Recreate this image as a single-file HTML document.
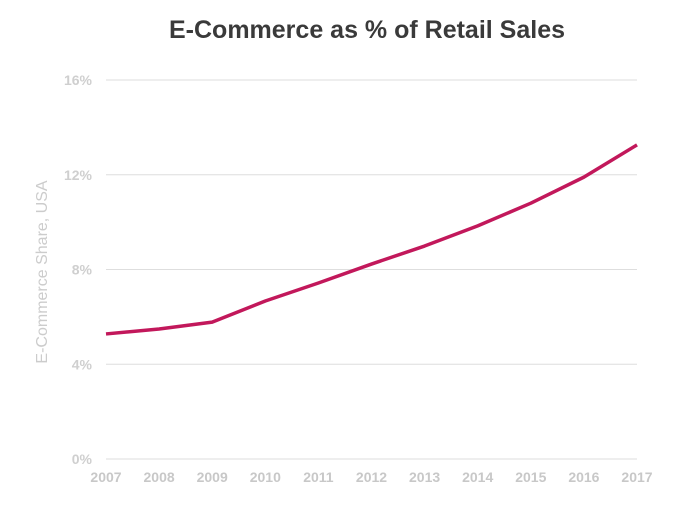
<!DOCTYPE html>
<html><head><meta charset="utf-8"><style>
body{margin:0;background:#fff;}
svg{display:block;font-family:"Liberation Sans",Arial,sans-serif;}
</style></head><body>
<svg id="chart" width="700" height="517">
<text x="367" y="38" text-anchor="middle" font-size="25" font-weight="bold" fill="#3a3a3a">E-Commerce as % of Retail Sales</text>
<text transform="translate(47,272) rotate(-90)" text-anchor="middle" font-size="16" fill="#cccccc">E-Commerce Share, USA</text>
<g id="grid"></g><g id="yt"></g><g id="xt"></g><g id="series"></g>
</svg>
<script>
const years=[2007,2008,2009,2010,2011,2012,2013,2014,2015,2016,2017];
const shares=[5.28,5.49,5.78,6.67,7.43,8.23,8.99,9.84,10.8,11.9,13.26];
const yTicks=[0,4,8,12,16];
const NS="http://www.w3.org/2000/svg";
const x0=106,x1=637,y0=459,y1=80;
const xs=i=>x0+(x1-x0)*i/(years.length-1);
const ys=v=>y0-(y0-y1)*v/16;
function mk(t,a,p){const e=document.createElementNS(NS,t);for(const k in a)e.setAttribute(k,a[k]);p.appendChild(e);return e;}
const g=document.getElementById('grid'),yt=document.getElementById('yt'),xt=document.getElementById('xt'),s=document.getElementById('series');
yTicks.forEach(v=>{
 const l=mk('line',{x1:x0,x2:x1,y1:ys(v),y2:ys(v),stroke:'#dedede','stroke-width':1},g);
 
 
 const t=mk('text',{x:92,y:ys(v)+5,'text-anchor':'end','font-size':14,'font-weight':'bold',fill:'#cfcfcf'},yt);
 t.textContent=v+'%';
 
 
});
years.forEach((yr,i)=>{
 const t=mk('text',{x:xs(i),y:482,'text-anchor':'middle','font-size':14,'font-weight':'bold',fill:'#c8c8c8'},xt);
 t.textContent=yr;
 
 
});
const p=mk('polyline',{points:shares.map((v,i)=>xs(i)+','+ys(v)).join(' '),fill:'none',stroke:'#c2185b','stroke-width':3.5,'stroke-linejoin':'round'},s);


</script>
</body></html>
